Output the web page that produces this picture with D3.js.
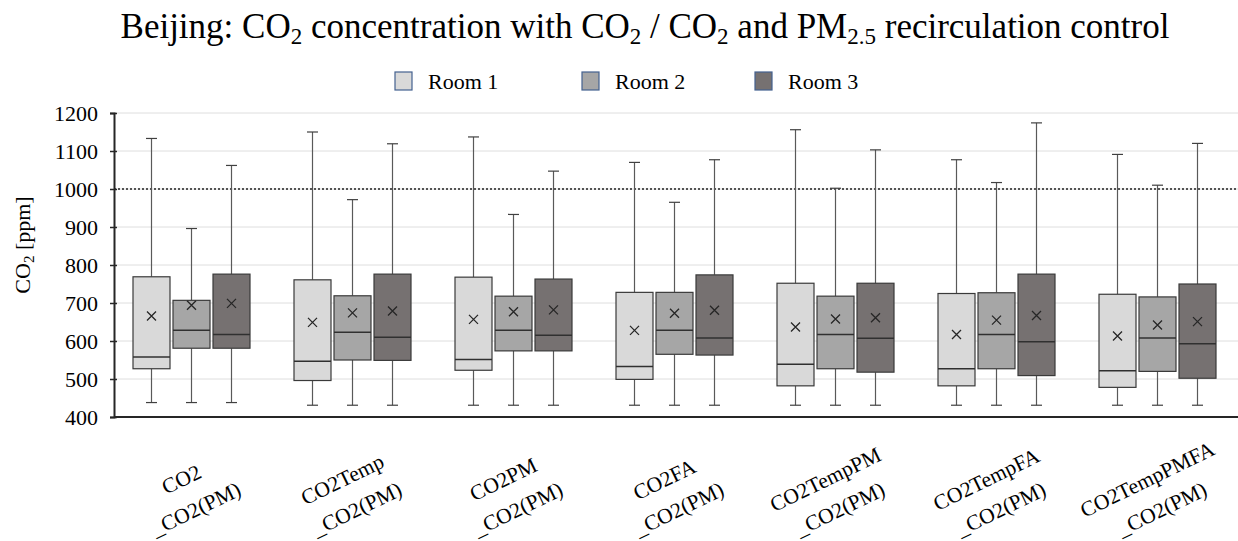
<!DOCTYPE html>
<html>
<head>
<meta charset="utf-8">
<script src="https://cdn.jsdelivr.net/npm/d3@7"></script>
<style>
  html, body { margin: 0; padding: 0; background: #ffffff; }
  svg { display: block; }
  text { font-family: "Liberation Serif", "Times New Roman", serif; fill: #000; }
</style>
</head>
<body>
<svg id="chart" width="1238" height="541"></svg>
<script>
// Control strategies (x categories), first and second label lines
const categories = ["CO2", "CO2Temp", "CO2PM", "CO2FA", "CO2TempPM", "CO2TempFA", "CO2TempPMFA"];
const labelSecondLine = "_CO2(PM)";
const rooms = ["Room 1", "Room 2", "Room 3"];
const roomColors = ["#d9d9d9", "#a6a6a6", "#767171"];

// Box statistics per room, one entry per category: [min, q1, median, q3, max, mean]
const room1 = [
  [438, 527, 558, 769, 1133, 666],
  [431, 496, 547, 761, 1150, 649],
  [431, 523, 551, 768, 1137, 657],
  [431, 499, 533, 728, 1070, 628],
  [431, 482, 539, 752, 1156, 637],
  [431, 482, 527, 725, 1077, 617],
  [431, 478, 522, 723, 1091, 613]
];
const room2 = [
  [438, 581, 628, 707, 896, 694],
  [431, 550, 623, 719, 972, 674],
  [431, 574, 628, 718, 933, 677],
  [431, 565, 628, 728, 965, 673],
  [431, 527, 617, 718, 1002, 658],
  [431, 527, 617, 727, 1017, 655],
  [431, 520, 608, 716, 1010, 642]
];
const room3 = [
  [438, 581, 617, 776, 1062, 699],
  [431, 549, 610, 776, 1119, 679],
  [431, 574, 615, 763, 1047, 682],
  [431, 563, 608, 774, 1077, 681],
  [431, 518, 607, 752, 1103, 661],
  [431, 509, 598, 776, 1174, 667],
  [431, 502, 593, 750, 1120, 651]
];
const yTicks = [400, 500, 600, 700, 800, 900, 1000, 1100, 1200];
const limitValue = 1000;

const roomStats = [room1, room2, room3];

const svg = d3.select("#chart");
const W = 1238;
const axisX = 114;

const y = d3.scaleLinear().domain([400, 1200]).range([417, 113]);
const x = d3.scaleBand().domain(categories).range([111, 1238]);
const xRoom = d3.scalePoint().domain(rooms).range([-40, 40]);
const boxW = 37;
const capW = 11;

// Title with subscripts
const title = svg.append("text")
  .attr("x", 645).attr("y", 38)
  .attr("text-anchor", "middle")
  .style("font-size", "35px");
const titleParts = [
  ["Beijing: CO", false], ["2", true], [" concentration with CO", false], ["2", true],
  [" / CO", false], ["2", true], [" and PM", false], ["2.5", true], [" recirculation control", false]
];
titleParts.forEach(([t, sub]) => {
  const ts = title.append("tspan").text(t);
  if (sub) ts.attr("baseline-shift", "-28%").style("font-size", "23px");
});

// Legend
const legendX = [395, 582, 755];
const legend = svg.append("g");
rooms.forEach((r, i) => {
  legend.append("rect")
    .attr("x", legendX[i]).attr("y", 72)
    .attr("width", 17).attr("height", 18)
    .attr("fill", roomColors[i])
    .attr("stroke", "#44618f").attr("stroke-width", 1.2);
  legend.append("text")
    .attr("x", legendX[i] + 33).attr("y", 89)
    .style("font-size", "22px")
    .text(r);
});

// Gridlines
svg.append("g")
  .selectAll("line").data(yTicks.filter(d => d > 400))
  .join("line")
  .attr("x1", axisX).attr("x2", W)
  .attr("y1", d => y(d)).attr("y2", d => y(d))
  .attr("stroke", "#dedede").attr("stroke-width", 1);

// Reference limit line
svg.append("line")
  .attr("x1", axisX).attr("x2", W)
  .attr("y1", y(limitValue)).attr("y2", y(limitValue))
  .attr("stroke", "#222").attr("stroke-width", 1.5)
  .attr("stroke-dasharray", "2,2");

// Y axis
const yAxis = svg.append("g")
  .attr("transform", `translate(${axisX},0)`)
  .call(d3.axisLeft(y).tickValues(yTicks).tickSize(4).tickPadding(12).tickFormat(d3.format("d")));
yAxis.select(".domain").attr("stroke", "#262626").attr("stroke-width", 2);
yAxis.selectAll(".tick line").attr("stroke", "#262626").attr("stroke-width", 1.5).attr("x2", 3).attr("x1", -4);
yAxis.selectAll(".tick text")
  .style("font-family", "'Liberation Serif', 'Times New Roman', serif")
  .style("font-size", "22px").attr("fill", "#000").attr("dy", "0.33em");

// Y axis title
const yTitle = svg.append("text")
  .attr("transform", "translate(30,245) rotate(-90)")
  .attr("text-anchor", "middle")
  .style("font-size", "22px");
yTitle.append("tspan").text("CO");
yTitle.append("tspan").text("2").attr("baseline-shift", "-25%").style("font-size", "15px");
yTitle.append("tspan").text(" [ppm]");

// Boxes
categories.forEach((c, ci) => {
  rooms.forEach((r, ri) => {
    const [mn, q1, med, q3, mx, mean] = roomStats[ri][ci];
    const cx = x(c) + x.bandwidth() / 2 + xRoom(r);
    const g = svg.append("g");
    // whiskers
    g.append("line").attr("x1", cx).attr("x2", cx).attr("y1", y(mx)).attr("y2", y(q3))
      .attr("stroke", "#595959").attr("stroke-width", 1.2);
    g.append("line").attr("x1", cx).attr("x2", cx).attr("y1", y(q1)).attr("y2", y(mn))
      .attr("stroke", "#595959").attr("stroke-width", 1.2);
    [mx, mn].forEach(v => {
      g.append("line").attr("x1", cx - capW / 2).attr("x2", cx + capW / 2)
        .attr("y1", y(v)).attr("y2", y(v))
        .attr("stroke", "#404040").attr("stroke-width", 1.2);
    });
    // box
    g.append("rect")
      .attr("x", cx - boxW / 2).attr("y", y(q3))
      .attr("width", boxW).attr("height", y(q1) - y(q3))
      .attr("fill", roomColors[ri])
      .attr("stroke", "#3a3a3a").attr("stroke-width", 1.2);
    // median
    g.append("line").attr("x1", cx - boxW / 2).attr("x2", cx + boxW / 2)
      .attr("y1", y(med)).attr("y2", y(med))
      .attr("stroke", "#303030").attr("stroke-width", 1.5);
    // mean marker
    const s = 4.5;
    const my = y(mean);
    g.append("path")
      .attr("d", `M${cx - s},${my - s}L${cx + s},${my + s}M${cx - s},${my + s}L${cx + s},${my - s}`)
      .attr("stroke", "#262626").attr("stroke-width", 1.3).attr("fill", "none");
  });
});

// X axis baseline
svg.append("line")
  .attr("x1", axisX).attr("x2", W)
  .attr("y1", y(400)).attr("y2", y(400))
  .attr("stroke", "#262626").attr("stroke-width", 2);

// Category labels, two centred lines rotated
categories.forEach(c => {
  const cx = x(c) + x.bandwidth() / 2 - 3;
  const t = svg.append("text")
    .attr("transform", `translate(${cx},494) rotate(-26)`)
    .attr("text-anchor", "middle")
    .style("font-size", "21.5px");
  t.append("tspan").attr("x", 0).attr("y", -9).text(c);
  t.append("tspan").attr("x", 0).attr("y", 24).text(labelSecondLine);
});
</script>
</body>
</html>
